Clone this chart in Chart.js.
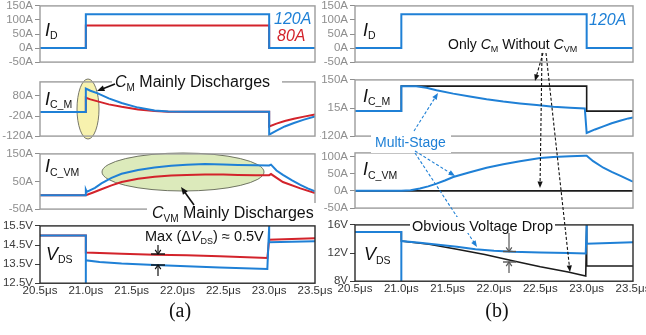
<!DOCTYPE html>
<html>
<head>
<meta charset="utf-8">
<script src="https://cdn.jsdelivr.net/npm/chart.js@4.4.1/dist/chart.umd.min.js"></script>
<style>
  html, body { margin: 0; padding: 0; background: #fff; }
  body { width: 646px; height: 335px; overflow: hidden; position: relative; }
  canvas { position: absolute; }
  #overlay { left: 0; top: 0; z-index: 5; pointer-events: none; }
</style>
</head>
<body>
<canvas id="a1"></canvas>
<canvas id="a2"></canvas>
<canvas id="a3"></canvas>
<canvas id="a4"></canvas>
<canvas id="b1"></canvas>
<canvas id="b2"></canvas>
<canvas id="b3"></canvas>
<canvas id="b4"></canvas>
<canvas id="overlay" width="646" height="335"></canvas>
<script>
// time axis (us)
const timeTicks = [20.5, 21.0, 21.5, 22.0, 22.5, 23.0, 23.5];

// tick values of each panel
const ticksId = [-50, 0, 50, 100, 150];
const ticksIcmA = [-120, -20, 80];
const ticksIcvmA = [-50, 50, 150];
const ticksVdsA = [12.5, 13.5, 14.5, 15.5];
const ticksIcmB = [-120, 15, 150];
const ticksIcvmB = [-50, 0, 50, 100];
const ticksVdsB = [8, 12, 16];

// (a) drain current, 120A / 80A
const tId = [20.5, 21.0, 21.0, 23.0, 23.0, 23.5];
const id120 = [0, 0, 120, 120, 0, 0];
const id80 = [0, 0, 80, 80, 0, 0];

// (a) I_C_M
const tIcmA = [20.5, 21.0, 21.0, 21.05, 21.13, 21.25, 21.39, 21.57, 21.75, 21.9, 22.1, 23.0, 23.0, 23.08, 23.17, 23.27, 23.38, 23.5];
const icmA120 = [0, 0, 117, 106, 93, 68, 45, 22, 7, 2, 1, 1, -113, -93, -72, -55, -38, -22];
const icmA80 = [0, 0, 71, 63, 53, 38, 26, 13, 5, 1.5, 1, 1, -72, -58, -45, -34, -23, -12];

// (a) I_C_VM
const tIcvmA120 = [20.5, 21.0, 21.0, 21.01, 21.1, 21.17, 21.28, 21.39, 21.57, 21.75, 21.93, 22.1, 22.3, 22.5, 22.66, 22.85, 23.0, 23.02, 23.08, 23.15, 23.25, 23.34, 23.42, 23.5];
const icvmA120 = [0, 0, 20, 12, 27, 43, 63, 78, 92, 101, 107, 111, 113, 112, 110, 109, 108, 111, 90, 74, 54, 38, 25, 14];
const tIcvmA80 = [20.5, 21.0, 21.08, 21.17, 21.28, 21.39, 21.57, 21.75, 21.93, 22.1, 22.3, 22.5, 22.66, 22.85, 23.0, 23.02, 23.15, 23.34, 23.5];
const icvmA80 = [0, 0, 10, 22, 36, 48, 60, 67, 72, 74, 75, 75, 74, 73, 73, 77, 48, 25, 8];

// (a) V_DS
const tVdsA120 = [20.5, 21.0, 21.0, 21.0, 21.15, 21.39, 21.75, 22.1, 22.46, 22.98, 23.0, 23.0, 23.5];
const vdsA120 = [15.0, 15.0, 12.5, 13.7, 13.61, 13.53, 13.45, 13.39, 13.32, 13.24, 15.5, 14.64, 14.69];
const tVdsA80 = [20.5, 21.0, 21.0, 21.39, 21.75, 22.1, 22.46, 22.98, 23.0, 23.5];
const vdsA80 = [15.0, 15.0, 14.11, 14.04, 13.99, 13.96, 13.91, 13.82, 14.78, 14.85];

// (b) I_C_M, multi-stage vs only C_M
const tIcmB = [20.5, 21.0, 21.0, 21.16, 21.27, 21.38, 21.56, 21.74, 21.92, 22.1, 22.28, 22.46, 22.64, 22.82, 22.98, 23.0, 23.09, 23.18, 23.27, 23.36, 23.45, 23.5];
const icmMulti = [0, 0, 120, 119, 112, 100, 84, 70, 57, 46, 37, 29, 21, 16, 13, -105, -88, -73, -58, -46, -35, -30];
const tIcmOnly = [20.5, 21.0, 21.0, 23.0, 23.0, 23.5];
const icmOnly = [0, 0, 120, 120, 0, 0];

// (b) I_C_VM
const tIcvmB = [20.5, 21.0, 21.1, 21.2, 21.29, 21.38, 21.47, 21.56, 21.74, 21.92, 22.1, 22.28, 22.5, 22.64, 22.82, 22.98, 23.0, 23.07, 23.18, 23.27, 23.36, 23.48, 23.5];
const icvmMulti = [0, 0, 2, 7, 13, 21, 30, 40, 54, 67, 77, 86, 95, 98, 100, 102, 102, 86, 67, 55, 44, 29, 27];
const tIcvmOnly = [20.5, 23.5];
const icvmOnly = [0, 0];

// (b) V_DS
const tVdsMulti = [20.5, 21.0, 21.0, 21.0, 21.2, 21.4, 21.6, 21.8, 22.0, 22.2, 22.5, 22.8, 22.99, 23.0, 23.0, 23.25, 23.5];
const vdsMulti = [15.0, 15.0, 8, 13.7, 13.45, 13.18, 12.88, 12.55, 12.32, 12.18, 12.08, 12.0, 11.95, 16, 13.32, 13.42, 13.55];
const tVdsOnly = [20.5, 21.0, 21.0, 21.3, 21.6, 21.9, 22.2, 22.5, 22.8, 22.99, 23.0, 23.0, 23.5];
const vdsOnly = [15.0, 15.0, 13.7, 13.25, 12.55, 11.8, 10.9, 10.05, 9.3, 8.75, 16, 10.15, 10.15];

const BLUE = '#1f80d6';
const RED = '#d3232b';
const BLACK = '#1b1b1b';
const FONT = '"Liberation Sans", Arial, sans-serif';

const cols = {
  a: { left: 0, width: 335, axisW: 40, padR: 20 },
  b: { left: 320, width: 346, axisW: 35, padR: 33 }
};

function line(t, v, color, width) {
  return { t, v, color, width };
}

function yellowEllipse(ctx, ox, oy) {
  ctx.save();
  ctx.beginPath();
  ctx.ellipse(88 - ox, 109 - oy, 11, 30, 0, 0, Math.PI * 2);
  ctx.fillStyle = '#f7f2ae';
  ctx.fill();
  ctx.strokeStyle = '#77776a';
  ctx.lineWidth = 1;
  ctx.stroke();
  ctx.restore();
}

function greenEllipse(ctx, ox, oy) {
  ctx.save();
  ctx.beginPath();
  ctx.ellipse(183 - ox, 172 - oy, 81, 19, 0, 0, Math.PI * 2);
  ctx.fillStyle = '#dceabb';
  ctx.fill();
  ctx.strokeStyle = '#6f7462';
  ctx.lineWidth = 1;
  ctx.stroke();
  ctx.restore();
}

const panels = [
  { id: 'a1', col: 'a', box: [5, 63], min: -50, max: 150, ticks: ticksId, unit: 'A',
    lines: [line(tId, id120, BLUE), line(tId, id80, RED)] },
  { id: 'a2', col: 'a', box: [81, 137], min: -120, max: 150, ticks: ticksIcmA, unit: 'A',
    lines: [line(tIcmA, icmA120, BLUE), line(tIcmA, icmA80, RED)], under: yellowEllipse },
  { id: 'a3', col: 'a', box: [153, 210], min: -50, max: 150, ticks: ticksIcvmA, unit: 'A',
    lines: [line(tIcvmA120, icvmA120, BLUE), line(tIcvmA80, icvmA80, RED)], under: greenEllipse },
  { id: 'a4', col: 'a', box: [225, 284], min: 12.5, max: 15.5, ticks: ticksVdsA, unit: 'V', dec: 1, xAxis: true, dark: true,
    lines: [line(tVdsA120, vdsA120, BLUE), line(tVdsA80, vdsA80, RED)] },
  { id: 'b1', col: 'b', box: [5, 63], min: -50, max: 150, ticks: ticksId, unit: 'A',
    lines: [line(tId, id120, BLUE)] },
  { id: 'b2', col: 'b', box: [79, 137], min: -120, max: 150, ticks: ticksIcmB, unit: 'A',
    lines: [line(tIcmB, icmMulti, BLUE), line(tIcmOnly, icmOnly, BLACK, 1.6)] },
  { id: 'b3', col: 'b', box: [152, 209], min: -50, max: 110, ticks: ticksIcvmB, unit: 'A',
    lines: [line(tIcvmB, icvmMulti, BLUE), line(tIcvmOnly, icvmOnly, BLACK, 1.6)] },
  { id: 'b4', col: 'b', box: [224, 282], min: 8, max: 16, ticks: ticksVdsB, unit: 'V', xAxis: true, dark: true,
    lines: [line(tVdsMulti, vdsMulti, BLUE), line(tVdsOnly, vdsOnly, BLACK, 1.6)] }
];

panels.forEach(p => {
  const col = cols[p.col];
  const cv = document.getElementById(p.id);
  const top = p.box[0] - 8;
  cv.width = col.width;
  cv.height = p.box[1] - p.box[0] + (p.xAxis ? 26 : 16);
  cv.style.left = col.left + 'px';
  cv.style.top = top + 'px';
  const tickColor = p.dark ? '#3c3c3c' : '#8e8e8e';
  const boxColor = p.dark ? '#2a2a2a' : '#9c9c9c';

  new Chart(cv, {
    type: 'line',
    data: {
      datasets: p.lines.map(s => ({
        data: s.t.map((t, i) => ({ x: t, y: s.v[i] })),
        borderColor: s.color,
        borderWidth: s.width || 2,
        pointRadius: 0,
        tension: 0,
        fill: false
      }))
    },
    options: {
      responsive: false,
      animation: false,
      events: [],
      layout: { padding: { top: 8, bottom: p.xAxis ? 3 : 8, left: 0, right: col.padR } },
      plugins: { legend: { display: false }, tooltip: { enabled: false } },
      scales: {
        x: {
          type: 'linear', min: 20.5, max: 23.5, display: !!p.xAxis,
          afterBuildTicks: s => { s.ticks = timeTicks.map(v => ({ value: v })); },
          ticks: { color: '#333', font: { family: FONT, size: 11.5 }, padding: 1, maxRotation: 0, autoSkip: false,
                   callback: v => v.toFixed(1) + 'μs' },
          grid: { display: false, drawTicks: false },
          border: { display: false }
        },
        y: {
          type: 'linear', min: p.min, max: p.max,
          afterBuildTicks: s => { s.ticks = p.ticks.map(v => ({ value: v })); },
          afterFit: s => { s.width = col.axisW; },
          ticks: { color: tickColor, font: { family: FONT, size: 11.5 }, padding: 2, autoSkip: false,
                   callback: v => (p.dec ? v.toFixed(p.dec) : v) + p.unit },
          grid: { drawOnChartArea: false, tickLength: 5, color: tickColor, lineWidth: 1 },
          border: { display: false }
        }
      }
    },
    plugins: [{
      id: 'panelBox',
      beforeDatasetsDraw(chart) {
        if (p.under) p.under(chart.ctx, col.left, top);
      },
      afterDatasetsDraw(chart) {
        const a = chart.chartArea, ctx = chart.ctx;
        ctx.save();
        ctx.strokeStyle = boxColor;
        ctx.lineWidth = 1.4;
        ctx.strokeRect(a.left, a.top, a.right - a.left, a.bottom - a.top);
        ctx.restore();
      }
    }]
  });
});

// ---- annotations on top ----
const ov = document.getElementById('overlay').getContext('2d');

function rich(x, y, parts, color) {
  ov.save();
  ov.fillStyle = color || '#111';
  ov.textBaseline = 'alphabetic';
  ov.textAlign = 'left';
  parts.forEach(([s, size, style, dy]) => {
    ov.font = (style || '') + ' ' + size + 'px ' + FONT;
    ov.fillText(s, x, y + (dy || 0));
    x += ov.measureText(s).width;
  });
  ov.restore();
}

function whiteBox(x, y, w, h) {
  ov.fillStyle = '#fff';
  ov.fillRect(x, y, w, h);
}

function arrow(x0, y0, x1, y1, o) {
  const ang = Math.atan2(y1 - y0, x1 - x0);
  const L = o.head || 7, W = o.spread || 0.38;
  ov.save();
  ov.strokeStyle = ov.fillStyle = o.color;
  ov.lineWidth = o.width || 1.2;
  ov.setLineDash(o.dash || []);
  ov.beginPath();
  ov.moveTo(x0, y0);
  const k = o.open ? 0 : L * 0.7;
  ov.lineTo(x1 - Math.cos(ang) * k, y1 - Math.sin(ang) * k);
  ov.stroke();
  ov.setLineDash([]);
  ov.beginPath();
  ov.moveTo(x1 - L * Math.cos(ang - W), y1 - L * Math.sin(ang - W));
  ov.lineTo(x1, y1);
  ov.lineTo(x1 - L * Math.cos(ang + W), y1 - L * Math.sin(ang + W));
  if (o.open) ov.stroke(); else { ov.closePath(); ov.fill(); }
  ov.restore();
}

function bar(x0, x1, y, color) {
  ov.save();
  ov.strokeStyle = color;
  ov.lineWidth = 1.4;
  ov.beginPath();
  ov.moveTo(x0, y);
  ov.lineTo(x1, y);
  ov.stroke();
  ov.restore();
}

// panel names
[[45, 35.5, 'I', 'D'], [45, 104.5, 'I', 'C_M'], [45, 172, 'I', 'C_VM'], [46, 259.5, 'V', 'DS'],
 [363, 35.5, 'I', 'D'], [363, 101.5, 'I', 'C_M'], [363, 175, 'I', 'C_VM'], [364, 260, 'V', 'DS']]
  .forEach(([x, y, main, sub]) => rich(x, y, [[main, 18, 'italic'], [sub, 10.5, '', 3.5]]));

// (a)
rich(274, 24, [['120A', 16, 'italic']], BLUE);
rich(277, 40.5, [['80A', 16, 'italic']], RED);

whiteBox(112, 74, 170, 19);
rich(115, 87, [['C', 16, 'italic'], ['M', 10, '', 4], [' Mainly Discharges', 16]]);
arrow(115, 84, 97, 91, { color: '#111', width: 1.6, head: 8 });

whiteBox(147, 203, 172, 21);
rich(152, 218, [['C', 16, 'italic'], ['VM', 10, '', 4], [' Mainly Discharges', 16]]);
arrow(194, 205, 181, 187, { color: '#111', width: 1.6, head: 8 });

rich(145, 240.5, [['Max (Δ', 14.5], ['V', 14.5, 'italic'], ['DS', 9, '', 3.5], [') ≈ 0.5V', 14.5]]);
arrow(158, 245, 158, 254, { color: '#111', open: true, head: 5, spread: 0.6 });
bar(151, 165, 254, '#111');
arrow(158, 276, 158, 265, { color: '#111', open: true, head: 5, spread: 0.6 });
bar(151, 165, 265, '#111');

// (b)
rich(589, 25, [['120A', 16, 'italic']], BLUE);
rich(448, 48.5, [['Only ', 14], ['C', 14, 'italic'], ['M', 9, '', 3.5], [' Without ', 14], ['C', 14, 'italic'], ['VM', 9, '', 3.5]]);

whiteBox(371, 133, 80, 20);
rich(375, 146.5, [['Multi-Stage', 14]], BLUE);
const dashBlue = { color: BLUE, dash: [3, 2], width: 1.1, head: 7 };
arrow(414, 131, 438, 93, dashBlue);
arrow(415, 151, 455, 176, dashBlue);
arrow(415, 153, 477, 247, dashBlue);

const dashBlack = { color: '#111', dash: [3, 2], width: 1.1, head: 7 };
arrow(543, 53, 535, 81, dashBlack);
arrow(542, 53, 540, 188, dashBlack);
arrow(546, 53, 570, 272, dashBlack);

whiteBox(410, 217, 145, 16);
rich(412, 231, [['Obvious Voltage Drop', 14.5]]);
arrow(509, 233, 509, 251.5, { color: '#555', open: true, head: 5, spread: 0.6 });
bar(503, 516, 251.5, '#555');
arrow(509, 273, 509, 262, { color: '#555', open: true, head: 5, spread: 0.6 });
bar(503, 516, 262, '#555');

// captions
ov.font = '20px "Liberation Serif", "Times New Roman", serif';
ov.fillStyle = '#111';
ov.textAlign = 'center';
ov.fillText('(a)', 180, 317);
ov.fillText('(b)', 497, 317);
</script>
</body>
</html>
